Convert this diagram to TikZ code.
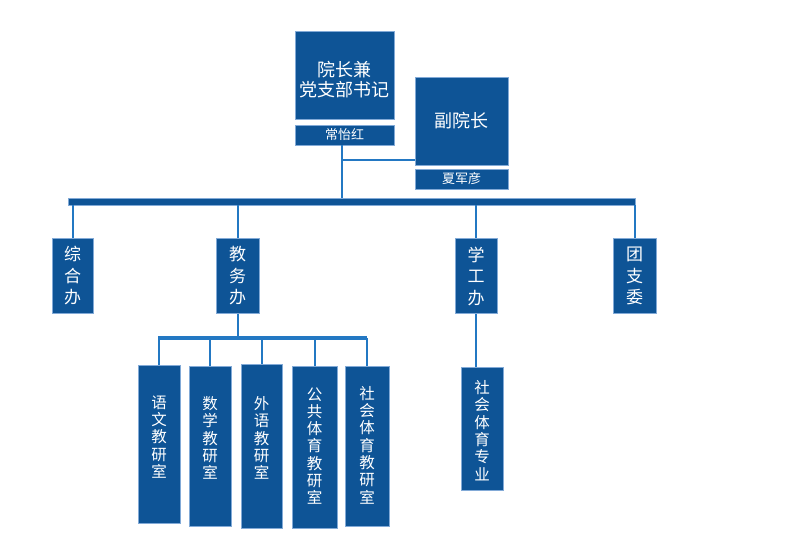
\documentclass[tikz,border=0pt]{standalone}
\usepackage{fontspec}
\setmainfont{Noto Sans CJK SC}
\definecolor{boxblue}{RGB}{14,84,150}
\definecolor{edgeblue}{RGB}{130,170,215}
\definecolor{lineblue}{RGB}{35,120,195}
\tikzset{
  orgbox/.style={draw=edgeblue, line width=0.8pt, fill=boxblue, text=white, inner sep=0pt, align=center},
  txt/.style={text=white, inner sep=0pt, align=center},
  conn/.style={draw=lineblue, line width=2pt},
  big/.style={font=\fontsize{18}{20}\selectfont},
  small/.style={font=\fontsize{13}{14}\selectfont},
  vert/.style={font=\fontsize{17}{21.5}\selectfont},
  vsmall/.style={font=\fontsize{15.5}{17.3}\selectfont}
}
\begin{document}
\begin{tikzpicture}[x=1pt,y=-1pt]
\useasboundingbox[fill=white] (0,0) rectangle (800,554);
% top
\node[orgbox,minimum width=99pt,minimum height=88pt] (dean) at (344.5,75) {};
\node[txt,big] (deant) at ([yshift=-5pt]dean.center) {院长兼\\党支部书记};
\node[orgbox,small,minimum width=99pt,minimum height=20pt] (deanname) at (344.5,135) {常怡红};
\node[orgbox,big,minimum width=93pt,minimum height=88pt] (vice) at (461.5,121) {副院长};
\node[orgbox,small,minimum width=93pt,minimum height=20pt] (vicename) at (461.5,179) {夏军彦};
% bar
\node[fill=boxblue,draw=edgeblue,line width=0.6pt,inner sep=0pt,minimum width=567pt,minimum height=7pt] (bar) at (351.5,201.5) {};
\coordinate (top) at (342,145);
\coordinate (j) at (342,160);
\draw[conn] (top) -- (top |- bar.north);
\draw[conn] (j) -- (j -| vice.west);
% level 2
\node[orgbox,vert,minimum width=41pt,minimum height=75pt] (zh) at (72.5,276) {综\\合\\办};
\node[orgbox,vert,minimum width=43pt,minimum height=75pt] (jw) at (237.5,276) {教\\务\\办};
\node[orgbox,vert,minimum width=42pt,minimum height=75pt] (xg) at (476,276) {学\\工\\办};
\node[orgbox,vert,minimum width=43pt,minimum height=75pt] (tz) at (634.5,276) {团\\支\\委};
\foreach \n in {zh,jw,xg,tz} \draw[conn] (\n.north) -- (\n.north |- bar.south);
% level 3
\draw[draw=lineblue,line width=3.5pt] (158,338) coordinate (sl) -- (367,338) coordinate (sr);
\draw[conn] (jw.south) -- (jw.south |- sl);
\node[orgbox,minimum width=42pt,minimum height=158pt] (yw) at (159,444) {};
\node[txt,vsmall] (ywt) at ([yshift=7pt]yw.center) {语\\文\\教\\研\\室};
\node[orgbox,minimum width=42pt,minimum height=160pt] (sx) at (210,446) {};
\node[txt,vsmall] (sxt) at ([yshift=8pt]sx.center) {数\\学\\教\\研\\室};
\node[orgbox,minimum width=41pt,minimum height=164pt] (wy) at (261.5,446) {};
\node[txt,vsmall] (wyt) at ([yshift=8pt]wy.center) {外\\语\\教\\研\\室};
\node[orgbox,minimum width=45pt,minimum height=162pt] (gg) at (314.5,447) {};
\node[txt,vsmall] (ggt) at ([yshift=1pt]gg.center) {公\\共\\体\\育\\教\\研\\室};
\node[orgbox,minimum width=44pt,minimum height=160pt] (sh) at (367,446) {};
\node[txt,vsmall] (sht) at ([yshift=1pt]sh.center) {社\\会\\体\\育\\教\\研\\室};
\foreach \n in {yw,sx,wy,gg,sh} \draw[conn] (\n.north) -- (\n.north |- sl);
\node[orgbox,minimum width=42pt,minimum height=123pt] (zy) at (482,428.5) {};
\node[txt,vsmall] (zyt) at ([yshift=-2pt]zy.center) {社\\会\\体\\育\\专\\业};
\draw[conn] (zy.north -| xg.south) -- (xg.south);
\end{tikzpicture}
\end{document}
